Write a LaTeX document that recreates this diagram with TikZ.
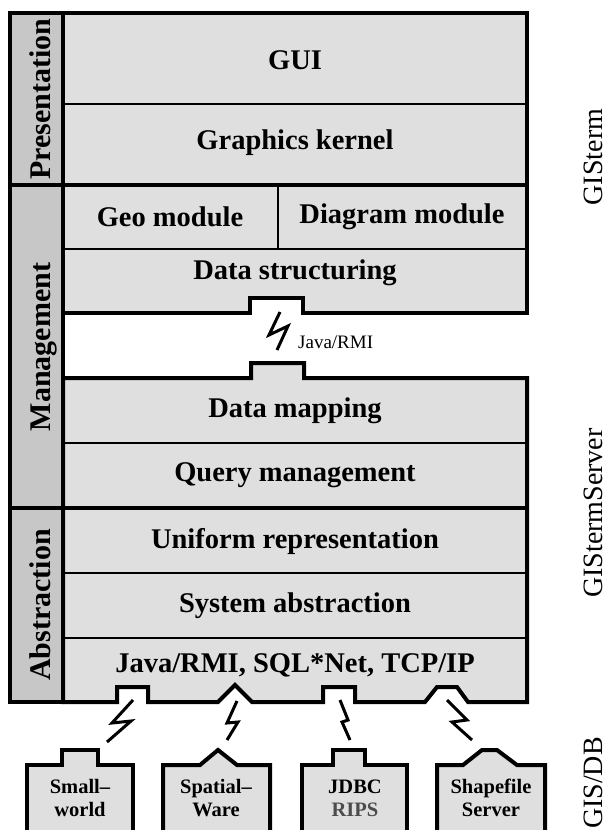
\documentclass[tikz,border=0pt]{standalone}
\usepackage{fontspec}
\setmainfont{Liberation Serif}
\definecolor{boxfill}{gray}{0.875}
\definecolor{colfill}{gray}{0.78}
\definecolor{ripsgray}{gray}{0.3}
\begin{document}
\begin{tikzpicture}[x=1pt,y=-1pt,
  outline/.style={line width=4pt, line join=miter},
  rowline/.style={line width=2pt},
  bolt/.style={line width=3pt, line join=miter},
  lbl/.style={font=\fontsize{28.5}{31}\selectfont\bfseries, inner sep=0pt},
  side/.style={font=\fontsize{30}{33}\selectfont\bfseries, rotate=90, anchor=base, inner sep=0pt},
  tier/.style={font=\fontsize{28}{31}\selectfont, rotate=90, anchor=base, inner sep=0pt},
  dblbl/.style={font=\fontsize{20.5}{23}\selectfont\bfseries, align=center, inner sep=0pt},
  smalllbl/.style={font=\fontsize{19}{22}\selectfont, inner sep=0pt}]
\useasboundingbox (0,0) rectangle (607,830);
% upper block (GISterm)
\draw[outline, fill=boxfill] (63,13) -- (527,13) -- (527,313) -- (303,313) -- (303,298) -- (250,298) -- (250,313) -- (63,313) -- cycle;
% lower block (GIStermServer)
\draw[outline, fill=boxfill] (63,378) -- (251,378) -- (251,363) -- (304,363) -- (304,378) -- (527,378) -- (527,702)
  -- (468,702) -- (457,687) -- (437,687) -- (425,702)
  -- (355,702) -- (355,687) -- (323,687) -- (323,702)
  -- (252,702) -- (235,685) -- (218,702)
  -- (148,702) -- (148,687) -- (117,687) -- (117,702) -- (63,702) -- cycle;
% left column
\draw[outline, fill=colfill] (10,13) rectangle (63,702);
% row lines
\draw[rowline] (63,104) -- (527,104);
\draw[rowline] (63,249) -- (527,249);
\draw[rowline] (278,185) -- (278,249);
\draw[rowline] (63,443) -- (527,443);
\draw[rowline] (63,573) -- (527,573);
\draw[rowline] (63,638) -- (527,638);
\draw[outline] (10,185) -- (527,185);
\draw[outline] (10,508) -- (527,508);
% layer labels
\node[side] (pres) at (50,99) {Presentation};
\node[side] (mgmt) at (50,347) {Management};
\node[side] (abst) at (50,605) {Abstraction};
% tier labels
\node[tier] (gisterm) at (602,157) {GISterm};
\node[tier] (server) at (602,513) {GIStermServer};
\node[tier] (gisdb) at (602,783) {GIS/DB};
% module labels
\node[lbl] (gui) at (295,60) {GUI};
\node[lbl] (gk) at (295,143) {Graphics kernel};
\node[lbl] (geo) at (170,217) {Geo module};
\node[lbl] (diag) at (402,217) {Diagram module};
\node[lbl] (ds) at (295,273) {Data structuring};
\node[lbl] (dm) at (295,411) {Data mapping};
\node[lbl] (qm) at (295,475) {Query management};
\node[lbl] (ur) at (295,541) {Uniform representation};
\node[lbl] (sa) at (295,606) {System abstraction};
\node[lbl] (proto) at (295,665) {Java/RMI, SQL*Net, TCP/IP};
% Java/RMI link
\draw[bolt] (280,312) -- (269,335) -- (288,326) -- (277,350);
\node[smalllbl, anchor=west] (rmi) at (298,342) {Java/RMI};
% database boxes
\draw[outline, fill=boxfill] (27,835) -- (27,765) -- (62,765) -- (62,750) -- (98,750) -- (98,765) -- (133,765) -- (133,835);
\draw[outline, fill=boxfill] (163,835) -- (163,765) -- (200,765) -- (218,750) -- (237,765) -- (270,765) -- (270,835);
\draw[outline, fill=boxfill] (302,835) -- (302,765) -- (333,765) -- (333,750) -- (365,750) -- (365,765) -- (407,765) -- (407,835);
\draw[outline, fill=boxfill] (437,835) -- (437,765) -- (463,765) -- (482,750) -- (497,750) -- (517,765) -- (545,765) -- (545,835);
\node[dblbl] (sw) at (80,798) {Small–\\world};
\node[dblbl] (spw) at (216,798) {Spatial–\\Ware};
\node[dblbl] (jdbc) at (355,798) {JDBC\\\textcolor{ripsgray}{RIPS}};
\node[dblbl] (shp) at (491,798) {Shapefile\\Server};
% link bolts
\draw[bolt] (133,700) -- (112,723) -- (131,721) -- (107,742);
\draw[bolt] (237,701) -- (227,723) -- (238,722) -- (227,740);
\draw[bolt] (340,700) -- (348,720) -- (342,722) -- (350,740);
\draw[bolt] (447,700) -- (467,720) -- (452,722) -- (472,740);
\end{tikzpicture}
\end{document}
